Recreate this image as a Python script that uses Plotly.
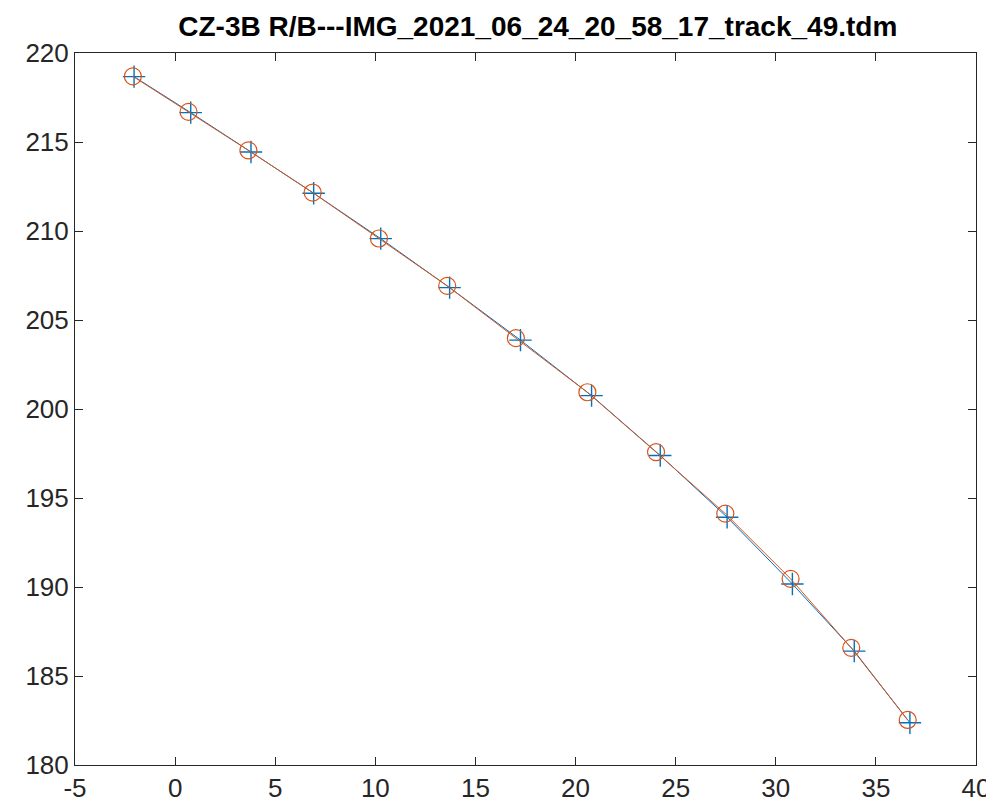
import plotly.graph_objects as go

# Series 1 (blue, plus markers)
x_blue = [-2.05, 0.78, 3.79, 6.92, 10.27, 13.71, 17.25, 20.80, 24.23, 27.57, 30.83, 33.92, 36.70]
y_blue = [218.67, 216.65, 214.44, 212.12, 209.57, 206.82, 203.87, 200.75, 197.39, 193.92, 190.17, 186.40, 182.37]

# Series 2 (orange, circle markers)
x_orange = [-2.11, 0.67, 3.66, 6.87, 10.18, 13.59, 17.02, 20.59, 24.02, 27.48, 30.74, 33.77, 36.59]
y_orange = [218.69, 216.69, 214.53, 212.16, 209.58, 206.92, 203.98, 200.94, 197.58, 194.12, 190.46, 186.58, 182.53]

x_ticks = [-5, 0, 5, 10, 15, 20, 25, 30, 35, 40]
y_ticks = [180, 185, 190, 195, 200, 205, 210, 215, 220]

title_text = "CZ-3B R/B---IMG_2021_06_24_20_58_17_track_49.tdm"

BLUE = "#0072BD"
ORANGE = "#D95319"
AX = "#262626"

fig = go.Figure()
fig.add_trace(go.Scatter(
    x=x_blue, y=y_blue, mode="lines+markers",
    line=dict(color=BLUE, width=1),
    marker=dict(symbol="cross-thin", size=16, color=BLUE,
                line=dict(color=BLUE, width=1.4)),
    showlegend=False,
))
fig.add_trace(go.Scatter(
    x=x_orange, y=y_orange, mode="lines+markers",
    line=dict(color=ORANGE, width=1),
    marker=dict(symbol="circle-open", size=17, color=ORANGE,
                line=dict(color=ORANGE, width=1.2)),
    showlegend=False,
))

axis_common = dict(
    showgrid=False, zeroline=False,
    showline=True, linecolor=AX, linewidth=1, mirror="ticks",
    ticks="inside", ticklen=8, tickwidth=1, tickcolor=AX,
    tickfont=dict(family="Liberation Sans, Arial, sans-serif", size=26, color=AX),
)

fig.update_layout(
    width=994, height=807,
    margin=dict(l=67, r=16, t=45, b=45),
    paper_bgcolor="white", plot_bgcolor="white",
    title=dict(text="<b>" + title_text + "</b>", x=0.533, xanchor="center",
               y=0.978, yanchor="middle",
               font=dict(family="Liberation Sans, Arial, sans-serif", size=28, color="black")),
    xaxis=dict(range=[-5, 40], tickvals=x_ticks, ticktext=[str(v) for v in x_ticks], **axis_common),
    yaxis=dict(range=[180, 220], tickvals=y_ticks, ticktext=[str(v) for v in y_ticks], **axis_common),
)

fig.write_html("out.html")
